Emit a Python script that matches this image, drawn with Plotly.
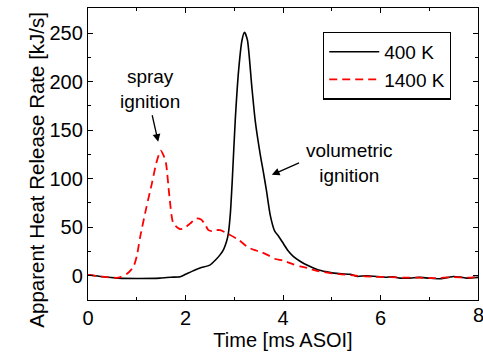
import plotly.graph_objects as go

# 400 K (solid black)
t_400 = [0, 0.3, 0.62, 1.0, 1.48, 1.7, 1.89, 2.0, 2.13, 2.3, 2.5, 2.61, 2.7, 2.78, 2.84,
         2.88, 2.92, 2.96, 3.02, 3.09, 3.16, 3.21, 3.27, 3.36, 3.43, 3.53, 3.6, 3.66,
         3.74, 3.83, 3.92, 4.01, 4.1, 4.21, 4.35, 4.49, 4.7, 4.9, 5.04, 5.2, 5.38, 5.52,
         5.7, 5.93, 6.1, 6.25, 6.4, 6.6, 6.8, 7.0, 7.23, 7.4, 7.5, 7.65, 7.77, 8.0]
q_400 = [1, -1, -2.4, -2.8, -2.4, -1.5, -1, 1.5, 4.5, 8, 11, 16, 21, 27, 35,
         44, 64, 99, 160, 212, 243, 251, 243, 195, 160, 126, 106, 88,
         62, 46, 40, 33, 26, 20, 15, 11, 6.5, 4, 2.7, 2, 1.5, -0.7,
         0, -0.7, -1.5, -1, -2.4, -2.5, -1.7, -2.5, -3, -1.5, -0.7, -1.5, -2.4, -1.7]

# 1400 K (dashed red)
t_1400 = [0, 0.3, 0.62, 0.8, 0.93, 1.0, 1.07, 1.2, 1.31, 1.4, 1.49, 1.55, 1.6, 1.67,
          1.75, 1.89, 2.0, 2.1, 2.22, 2.32, 2.4, 2.47, 2.54, 2.61, 2.71, 2.88, 3.09,
          3.29, 3.45, 3.57, 3.7, 3.83, 4.01, 4.2, 4.35, 4.5, 4.7, 5.0, 5.2, 5.5, 5.86,
          6.2, 6.5, 6.8, 7.1, 7.5, 7.8, 8.0]
q_1400 = [1, -1, -2, 2, 9, 20, 40, 71, 95, 116, 129, 124, 116, 82,
          54, 48, 50, 54, 59, 58, 53, 47, 46, 47, 47, 43, 37,
          29, 26, 24, 21, 17.5, 15.5, 12, 9.6, 8, 5, 2.5, 1.5, 0, -1,
          -1.5, -2, -2, -2.5, -1.5, -2, -1]

x_ticks = [0, 2, 4, 6, 8]
names = ["400 K", "1400 K"]
FONT = "Liberation Sans, Arial, sans-serif"

fig = go.Figure()
fig.add_trace(go.Scatter(x=t_400, y=q_400, mode="lines", name=names[0],
                         line=dict(color="black", width=1.6, shape="spline", smoothing=0.6)))
fig.add_trace(go.Scatter(x=t_1400, y=q_1400, mode="lines", name=names[1],
                         line=dict(color="#ff0000", width=1.8, dash="8px,5px",
                                   shape="spline", smoothing=0.6)))

axis_common = dict(showline=True, linecolor="black", linewidth=1.3, mirror="ticks",
                   ticks="inside", ticklen=5, tickwidth=1.2, tickcolor="black",
                   showgrid=False, zeroline=False,
                   tickfont=dict(family=FONT, size=20, color="black"))

fig.update_xaxes(range=[0, 8], tickvals=x_ticks[:-1],
                 minor=dict(ticks="inside", dtick=1, ticklen=3, tickcolor="black", tickwidth=1.2),
                 title=dict(text="Time [ms ASOI]", font=dict(family=FONT, size=20, color="black"),
                            standoff=0),
                 **axis_common)
fig.update_yaxes(range=[-25, 276], dtick=50, tick0=0,
                 minor=dict(ticks="inside", dtick=25, ticklen=3, tickcolor="black", tickwidth=1.2),
                 **axis_common)

# y-axis title (placed as in the reference, slightly below the axis centre)
fig.add_annotation(x=-0.169, y=0.445, xref="paper", yref="paper",
                   text="Apparent Heat Release Rate [kJ/s]", textangle=-90, showarrow=False,
                   font=dict(family=FONT, size=20.5, color="black"))
# last x tick label sits on the right edge (clipped in the reference)
fig.add_annotation(x=x_ticks[-1], y=0, xref="x", yref="paper", yanchor="top", yshift=-2,
                   text=str(x_ticks[-1]), showarrow=False,
                   font=dict(family=FONT, size=20, color="black"))
fig.add_annotation(x=1.27, y=193, text="spray<br>ignition", showarrow=False,
                   font=dict(family=FONT, size=19, color="black"))
fig.add_annotation(x=1.44, y=138, ax=1.31, ay=167, axref="x", ayref="y",
                   text="", showarrow=True, arrowhead=2, arrowsize=1.2, arrowwidth=1.3,
                   arrowcolor="black")
fig.add_annotation(x=5.37, y=116, text="volumetric<br>ignition", showarrow=False,
                   font=dict(family=FONT, size=19, color="black"))
fig.add_annotation(x=3.77, y=104, ax=4.36, ay=117, axref="x", ayref="y",
                   text="", showarrow=True, arrowhead=2, arrowsize=1.2, arrowwidth=1.3,
                   arrowcolor="black")

fig.update_layout(
    width=483, height=364,
    margin=dict(l=88, r=5, t=8, b=64, autoexpand=False),
    paper_bgcolor="white", plot_bgcolor="white",
    font=dict(family=FONT, size=20, color="black"),
    showlegend=True,
    legend=dict(x=0.6026, y=0.919, xanchor="left", yanchor="top",
                bordercolor="black", borderwidth=1.2, bgcolor="white",
                font=dict(family=FONT, size=19, color="black"),
                itemwidth=50, tracegroupgap=0),
)

fig.write_html("out.html")
